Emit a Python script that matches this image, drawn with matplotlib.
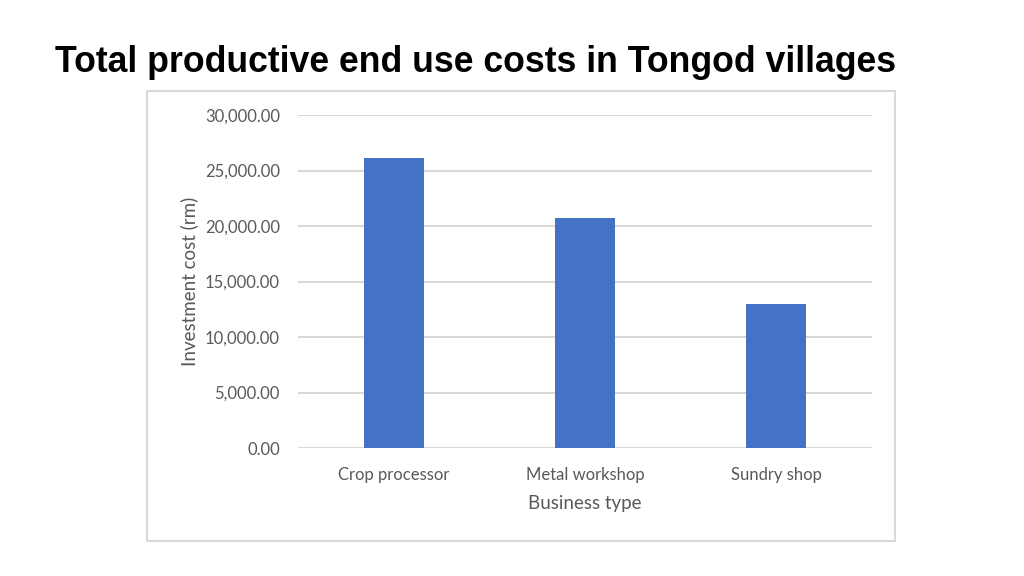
import matplotlib.pyplot as plt
from matplotlib.patches import Rectangle
from matplotlib.ticker import FuncFormatter

# datos
negocios = ["Crop processor", "Metal workshop", "Sundry shop"]
costos = [26130, 20730, 12960]

GRIS_TEXTO = "#595959"
GRIS_LINEA = "#d9d9d9"
AZUL = "#4472C4"

fig = plt.figure(figsize=(10.24, 5.76), dpi=100)

# marco del gráfico
fig.patches.append(Rectangle((0.1436, 0.0608), 0.7305, 0.7813,
                             transform=fig.transFigure, fill=False,
                             edgecolor=GRIS_LINEA, linewidth=1.5))

fig.text(55 / 1024, 0.8755, "Total productive end use costs in Tongod villages",
         family="Liberation Sans", weight="bold", fontsize=25.7, va="baseline")

ax = fig.add_axes([0.291, 0.2222, 0.5606, 0.5781])
ax.bar(range(len(negocios)), costos, width=0.313, color=AZUL, zorder=3)

ax.set_xlim(-0.5, len(negocios) - 0.5)
ax.set_ylim(0, 30000)
ax.set_yticks(range(0, 30001, 5000))
ax.yaxis.set_major_formatter(FuncFormatter(lambda v, p: f"{v:,.2f}"))
ax.set_xticks(range(len(negocios)))
ax.set_xticklabels(negocios)

for s in ax.spines.values():
    s.set_visible(False)
ax.grid(axis="y", color=GRIS_LINEA, linewidth=1.5, zorder=0)
ax.tick_params(length=0, colors=GRIS_TEXTO, labelsize=12)
ax.tick_params(axis="y", pad=13)
ax.tick_params(axis="x", pad=14)
for lbl in ax.get_xticklabels() + ax.get_yticklabels():
    lbl.set_family("Lato")

ax.set_xlabel("Business type", family="Lato", fontsize=13.5, color=GRIS_TEXTO, labelpad=8.5)
ax.set_ylabel("Investment cost (rm)", family="Lato", fontsize=13.5, color=GRIS_TEXTO, labelpad=5)

fig.savefig("out.png", dpi=100)
